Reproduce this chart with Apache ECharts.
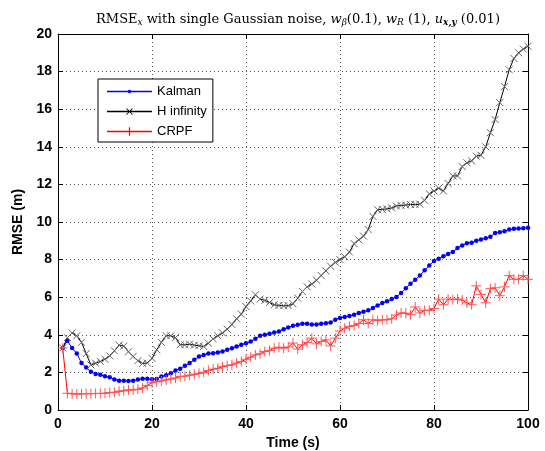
<!DOCTYPE html>
<html><head><meta charset="utf-8">
<script src="https://cdn.jsdelivr.net/npm/echarts@6/dist/echarts.min.js"></script>
<style>html,body{margin:0;padding:0;background:#fff}#c{width:545px;height:451px}</style>
</head><body><div id="c"></div>
<script>
var time = [1,2,3,4,5,6,7,8,9,10,11,12,13,14,15,16,17,18,19,20,21,22,23,24,25,26,27,28,29,30,31,32,33,34,35,36,37,38,39,40,41,42,43,44,45,46,47,48,49,50,51,52,53,54,55,56,57,58,59,60,61,62,63,64,65,66,67,68,69,70,71,72,73,74,75,76,77,78,79,80,81,82,83,84,85,86,87,88,89,90,91,92,93,94,95,96,97,98,99,100];
var kalman = [3.3,3.68,3.3,3.0,2.5,2.26,2.03,1.92,1.87,1.8,1.74,1.62,1.56,1.56,1.54,1.56,1.62,1.66,1.66,1.64,
1.65,1.78,1.85,1.96,2.1,2.2,2.35,2.5,2.67,2.84,2.92,3.0,3.02,3.06,3.11,3.2,3.29,3.38,3.47,3.55,
3.64,3.79,3.95,4.0,4.05,4.12,4.18,4.3,4.39,4.48,4.53,4.59,4.59,4.55,4.55,4.59,4.62,4.66,4.8,4.9,
4.95,5.0,5.07,5.16,5.23,5.3,5.42,5.56,5.69,5.78,5.9,6.01,6.22,6.47,6.72,6.93,7.15,7.43,7.68,7.93,
8.05,8.18,8.3,8.41,8.62,8.75,8.87,8.9,9.0,9.07,9.14,9.21,9.42,9.45,9.51,9.6,9.64,9.65,9.67,9.7];
var hinf = [3.3,3.85,4.1,3.95,3.6,3.0,2.4,2.49,2.58,2.7,2.88,3.15,3.45,3.4,3.1,2.85,2.62,2.48,2.5,2.75,
3.2,3.6,3.95,3.95,3.85,3.47,3.47,3.5,3.45,3.42,3.38,3.55,3.78,3.95,4.1,4.3,4.55,4.85,5.1,5.5,
5.8,6.13,5.9,5.83,5.72,5.6,5.56,5.54,5.55,5.65,5.95,6.3,6.55,6.7,6.9,7.15,7.4,7.65,7.85,8.0,
8.15,8.4,8.85,9.05,9.25,9.6,10.3,10.65,10.67,10.7,10.75,10.85,10.88,10.9,10.93,10.93,10.95,11.15,11.5,11.65,
11.8,11.65,12.05,12.45,12.45,12.95,13.15,13.25,13.5,13.55,14.0,14.75,15.45,16.35,17.2,18.1,18.7,19.0,19.2,19.35];
var crpf = [3.3,0.89,0.86,0.85,0.86,0.87,0.87,0.88,0.88,0.89,0.93,0.94,1.0,1.02,1.07,1.07,1.1,1.17,1.3,1.45,
1.5,1.55,1.6,1.65,1.7,1.78,1.8,1.85,1.9,1.95,2.0,2.1,2.17,2.22,2.3,2.36,2.4,2.5,2.58,2.7,
2.81,2.93,2.99,3.11,3.16,3.29,3.34,3.29,3.35,3.56,3.24,3.47,3.59,3.82,3.52,3.64,3.73,3.41,3.82,4.2,
4.35,4.45,4.5,4.6,4.8,4.6,4.8,4.75,4.8,4.8,4.85,5.05,5.16,5.15,5.07,5.48,5.16,5.3,5.3,5.4,
5.9,5.6,5.9,5.87,5.9,5.85,5.7,5.6,6.6,6.15,5.7,6.45,6.5,6.08,6.55,7.15,6.95,6.95,7.15,6.95];
var seriesNames = ['Kalman','H infinity','CRPF'];
var xTicks = {min:0,max:100,interval:20};
var yTicks = {min:0,max:20,interval:2};

function pairs(v){return time.map(function(t,i){return [t,v[i]];});}
var chart = echarts.init(document.getElementById('c'),null,{renderer:'canvas'});
var sans = 'Liberation Sans, Arial, sans-serif';
var serif = 'DejaVu Serif, serif';
var gridLine = {show:true,lineStyle:{color:'#555',type:[1,3],width:1}};
// legend icons (45 x 10 box; tiny corner specks fix the bounding box)
var box = 'M0,0L0.02,0L0,0.02Z M45,10L44.98,10L45,9.98Z ';
var lineBar = 'M0,4.35L45,4.35L45,5.65L0,5.65Z ';
var iconKalman = 'path://' + box + lineBar + 'M20.7,5A1.8,1.8 0 1 1 24.3,5A1.8,1.8 0 1 1 20.7,5Z';
var iconHinf = 'path://' + box + lineBar + 'M19.15,2.35L19.85,1.65L25.85,7.65L25.15,8.35Z M25.15,1.65L25.85,2.35L19.85,8.35L19.15,7.65Z';
var iconCrpf = 'path://' + box + lineBar + 'M21.9,0.8L23.1,0.8L23.1,9.2L21.9,9.2Z';
var axisLbl = {color:'#000',fontSize:14,fontWeight:'bold',fontFamily:sans};
var noBorder = {borderWidth:0,borderColor:'rgba(0,0,0,0)',opacity:1};
var opt = {
  animation:false,
  backgroundColor:'#fff',
  title:{left:293,textAlign:'center',top:7,
    text:'{n|RMSE}{s|x}{n| with single Gaussian noise, }{i|w}{s|β}{n|(0.1), }{i|w}{s|R}{n| (1), }{i|u}{b|x,y}{n| (0.01)}',
    textStyle:{fontWeight:'normal',rich:{
      n:{fontFamily:serif,fontSize:13,fontWeight:'normal',color:'#000'},
      i:{fontFamily:serif,fontSize:13,fontStyle:'italic',fontWeight:'normal',color:'#000'},
      s:{fontFamily:serif,fontSize:9,fontStyle:'italic',fontWeight:'normal',color:'#000',padding:[6,0,0,0]},
      b:{fontFamily:serif,fontSize:9,fontStyle:'italic',fontWeight:'bold',color:'#000',padding:[6,0,0,0]}
    }}},
  grid:{left:58,right:17,top:34,bottom:41,containLabel:false,outerBoundsMode:'none'},
  legend:{orient:'vertical',left:98,top:79,backgroundColor:'#fff',borderColor:'#000',borderWidth:1,
    borderRadius:0,padding:[6,6,4,9],itemWidth:45,itemHeight:10,itemGap:7,
    data:[
      {name:seriesNames[0],icon:iconKalman,itemStyle:Object.assign({color:'#0000ff'},noBorder)},
      {name:seriesNames[1],icon:iconHinf,itemStyle:Object.assign({color:'#000000'},noBorder)},
      {name:seriesNames[2],icon:iconCrpf,itemStyle:Object.assign({color:'#ff0000'},noBorder)}],
    textStyle:{color:'#000',fontSize:13,fontFamily:sans}},
  xAxis:[{type:'value',min:xTicks.min,max:xTicks.max,interval:xTicks.interval,position:'bottom',
     axisLine:{show:true,onZero:false,lineStyle:{color:'#000',width:1}},
     axisTick:{show:true,inside:true,length:5,lineStyle:{color:'#000'}},
     axisLabel:Object.assign({margin:7},axisLbl),
     splitLine:gridLine,name:'Time (s)',nameLocation:'middle',nameGap:24,
     nameTextStyle:axisLbl},
    {type:'value',min:xTicks.min,max:xTicks.max,interval:xTicks.interval,position:'top',
     axisLine:{show:true,onZero:false,lineStyle:{color:'#000',width:1}},
     axisTick:{show:true,inside:true,length:5,lineStyle:{color:'#000'}},
     axisLabel:{show:false},splitLine:{show:false}}],
  yAxis:[{type:'value',min:yTicks.min,max:yTicks.max,interval:yTicks.interval,position:'left',
     axisLine:{show:true,onZero:false,lineStyle:{color:'#000',width:1}},
     axisTick:{show:true,inside:true,length:5,lineStyle:{color:'#000'}},
     axisLabel:Object.assign({margin:6},axisLbl),
     splitLine:gridLine,name:'RMSE (m)',nameLocation:'middle',nameGap:30,nameRotate:90,
     nameTextStyle:axisLbl},
    {type:'value',min:yTicks.min,max:yTicks.max,interval:yTicks.interval,position:'right',
     axisLine:{show:true,onZero:false,lineStyle:{color:'#000',width:1}},
     axisTick:{show:true,inside:true,length:5,lineStyle:{color:'#000'}},
     axisLabel:{show:false},splitLine:{show:false}}],
  series:[
    {name:seriesNames[0],type:'line',data:pairs(kalman),symbol:'circle',symbolSize:4.5,showSymbol:true,
     lineStyle:{color:'#0000ff',width:1},itemStyle:{color:'#0000ff',borderWidth:0}},
    {name:seriesNames[1],type:'line',data:pairs(hinf),symbol:'path://M0,0L10,10M10,0L0,10',symbolSize:7,showSymbol:true,
     lineStyle:{color:'#000',width:1},itemStyle:{color:'#000000',borderColor:'#666',borderWidth:1}},
    {name:seriesNames[2],type:'line',data:pairs(crpf),symbol:'path://M5,0L5,10M0,5L10,5',symbolSize:10,showSymbol:true,
     lineStyle:{color:'#ff0000',width:1},itemStyle:{color:'#ff0000',borderColor:'#ff5555',borderWidth:1}}
  ]
};
chart.setOption(opt);
</script></body></html>
